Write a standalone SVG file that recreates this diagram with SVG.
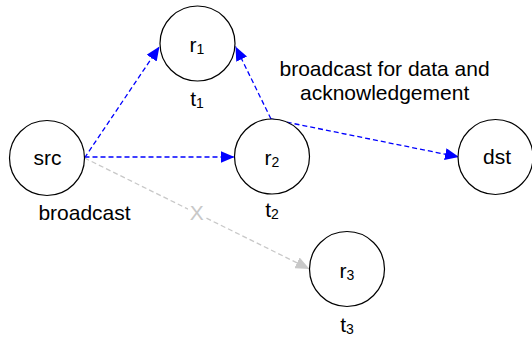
<svg xmlns="http://www.w3.org/2000/svg" width="532" height="339" viewBox="0 0 532 339">
<style>
  .node circle { fill: #ffffff; stroke: #000000; stroke-width: 1.2; }
  text { font-family: "Liberation Sans", Arial, sans-serif; font-size: 21px; fill: #000000; }
  .sub { font-size: 14px; }
  .blue { fill: none; stroke: #0000ff; stroke-width: 1.3; stroke-dasharray: 5 3; }
  .gray { fill: none; stroke: #c8c8c8; stroke-width: 1.3; stroke-dasharray: 5 3; }
</style>
<defs>
  <marker id="ab" markerUnits="userSpaceOnUse" markerWidth="14" markerHeight="12" refX="14" refY="6" orient="auto">
    <path d="M0,0 L14,6 L0,12 z" fill="#0000ff"/>
  </marker>
  <marker id="ag" markerUnits="userSpaceOnUse" markerWidth="14" markerHeight="12" refX="14" refY="6" orient="auto">
    <path d="M0,0 L14,6 L0,12 z" fill="#c8c8c8"/>
  </marker>
</defs>
<rect x="0" y="0" width="532" height="339" fill="#ffffff"/>
<g id="connectors">
  <path class="blue" d="M84.5,158 L159.5,46.5" marker-end="url(#ab)"/>
  <path class="blue" d="M84.5,157 L234.5,157" marker-end="url(#ab)"/>
  <path class="blue" d="M271,119 L235.5,46.5" marker-end="url(#ab)"/>
  <path class="blue" d="M271,119 L459,157" marker-end="url(#ab)"/>
  <path class="gray" d="M84.5,158 L309.5,269" marker-end="url(#ag)"/>
  <rect x="188" y="204" width="18" height="18" fill="#ffffff"/>
  <text x="196.7" y="220" text-anchor="middle" fill="#c8c8c8" style="fill:#c8c8c8">X</text>
</g>
<g id="src" class="node">
  <circle cx="47" cy="158" r="37.5"/>
  <text x="47.5" y="164.5" text-anchor="middle">src</text>
  <text x="84.5" y="220" text-anchor="middle">broadcast</text>
</g>
<g id="r1" class="node">
  <circle cx="197.5" cy="43.5" r="37.5"/>
  <text x="197" y="52" text-anchor="middle">r<tspan class="sub" dy="2">1</tspan></text>
  <text x="197" y="106" text-anchor="middle">t<tspan class="sub" dy="2">1</tspan></text>
</g>
<g id="r2" class="node">
  <circle cx="272" cy="156.5" r="37.5"/>
  <text x="272" y="165" text-anchor="middle">r<tspan class="sub" dy="2">2</tspan></text>
  <text x="272" y="217" text-anchor="middle">t<tspan class="sub" dy="2">2</tspan></text>
</g>
<g id="r3" class="node">
  <circle cx="347" cy="269" r="37.5"/>
  <text x="347" y="277.5" text-anchor="middle">r<tspan class="sub" dy="2">3</tspan></text>
  <text x="347" y="332" text-anchor="middle">t<tspan class="sub" dy="2">3</tspan></text>
</g>
<g id="dst" class="node">
  <circle cx="495.5" cy="157" r="37.5"/>
  <text x="497" y="164" text-anchor="middle">dst</text>
</g>
<g id="label-ack">
  <text x="384.6" y="76" text-anchor="middle">broadcast for data and</text>
  <text x="384.6" y="100" text-anchor="middle">acknowledgement</text>
</g>
</svg>
